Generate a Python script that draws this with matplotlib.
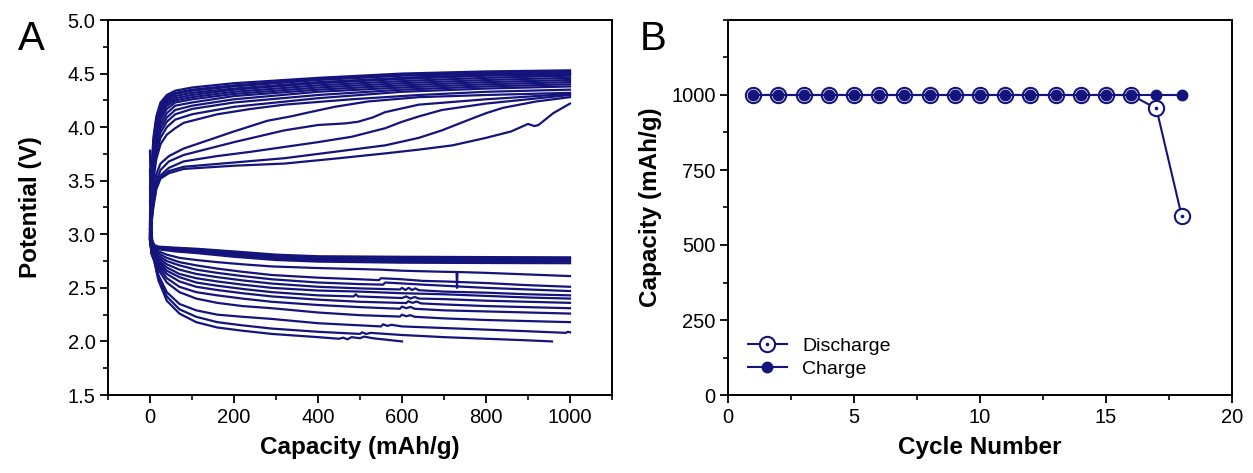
import matplotlib
matplotlib.use('Agg')
import matplotlib.pyplot as plt
from matplotlib.ticker import MultipleLocator, FormatStrFormatter
from matplotlib.legend_handler import HandlerTuple
from matplotlib.lines import Line2D

plt.rcParams['font.family'] = ['Liberation Sans', 'DejaVu Sans']

NAVY = '#14147c'

# ---------------- Panel A data: voltage profiles (capacity mAh/g, potential V)
bundle_cap = [0, 3, 8, 15, 25, 40, 60, 100, 200, 400, 600, 800, 1000]
charge_bundle_v = [
    [3.15, 3.55, 3.90, 4.10, 4.23, 4.30, 4.34, 4.37, 4.41, 4.46, 4.50, 4.52, 4.53],
    [3.12, 3.50, 3.86, 4.07, 4.20, 4.28, 4.32, 4.35, 4.39, 4.45, 4.49, 4.51, 4.52],
    [3.10, 3.48, 3.83, 4.04, 4.18, 4.26, 4.31, 4.34, 4.38, 4.44, 4.48, 4.50, 4.51],
    [3.08, 3.45, 3.80, 4.01, 4.16, 4.24, 4.29, 4.32, 4.36, 4.42, 4.46, 4.49, 4.50],
    [3.06, 3.42, 3.77, 3.98, 4.13, 4.22, 4.27, 4.30, 4.35, 4.41, 4.45, 4.48, 4.49],
    [3.05, 3.40, 3.74, 3.95, 4.10, 4.20, 4.25, 4.28, 4.33, 4.39, 4.43, 4.46, 4.48],
    [3.04, 3.38, 3.70, 3.92, 4.07, 4.17, 4.23, 4.26, 4.31, 4.37, 4.41, 4.44, 4.46],
    [3.03, 3.36, 3.66, 3.88, 4.03, 4.13, 4.20, 4.23, 4.29, 4.35, 4.39, 4.42, 4.44],
    [3.02, 3.34, 3.62, 3.84, 3.99, 4.09, 4.16, 4.20, 4.26, 4.33, 4.37, 4.40, 4.42],
    [3.01, 3.32, 3.58, 3.80, 3.95, 4.05, 4.12, 4.17, 4.23, 4.30, 4.35, 4.38, 4.40],
    [3.00, 3.30, 3.55, 3.76, 3.90, 4.00, 4.07, 4.12, 4.19, 4.27, 4.33, 4.36, 4.38],
]
charge_other = [
    [(0, 3.00), (3, 3.28), (8, 3.50), (15, 3.70), (25, 3.84), (40, 3.93), (60, 3.99), (80, 4.04),
     (160, 4.12), (240, 4.17), (320, 4.21), (480, 4.26), (640, 4.30), (800, 4.33), (1000, 4.35)],
    [(0, 2.98), (3, 3.20), (8, 3.40), (15, 3.56), (25, 3.66), (45, 3.73), (80, 3.80), (140, 3.88),
     (200, 3.96), (280, 4.06), (335, 4.10), (375, 4.135), (440, 4.19), (520, 4.24), (640, 4.28),
     (800, 4.30), (1000, 4.32)],
    [(0, 2.97), (3, 3.15), (8, 3.35), (15, 3.50), (25, 3.60), (45, 3.68), (80, 3.74), (140, 3.80),
     (200, 3.86), (320, 3.97), (400, 4.02), (465, 4.035), (495, 4.05), (530, 4.09), (560, 4.14),
     (640, 4.21), (800, 4.26), (1000, 4.31)],
    [(0, 2.96), (3, 3.12), (8, 3.30), (15, 3.46), (25, 3.55), (45, 3.62), (80, 3.68), (160, 3.73),
     (240, 3.77), (400, 3.86), (480, 3.91), (560, 3.99), (600, 4.05), (640, 4.10), (695, 4.16),
     (800, 4.22), (1000, 4.30)],
    [(0, 2.95), (3, 3.10), (8, 3.28), (15, 3.44), (25, 3.53), (45, 3.59), (80, 3.63), (200, 3.67),
     (320, 3.71), (480, 3.79), (560, 3.83), (640, 3.90), (695, 3.97), (760, 4.07), (800, 4.13),
     (840, 4.18), (920, 4.24), (1000, 4.28)],
    [(0, 2.94), (3, 3.08), (8, 3.25), (15, 3.42), (25, 3.52), (45, 3.57), (80, 3.61), (200, 3.64),
     (320, 3.66), (450, 3.71), (560, 3.755), (640, 3.79), (720, 3.83), (800, 3.90), (860, 3.96),
     (900, 4.03), (915, 4.01), (925, 4.02), (960, 4.13), (1000, 4.22)],
]
discharge_curves = [
    [(0, 3.78), (2, 3.30), (5, 2.95), (10, 2.90), (20, 2.885), (60, 2.875), (110, 2.865), (200, 2.84),
     (300, 2.81), (400, 2.795), (600, 2.79), (800, 2.787), (1000, 2.785)],
    [(0, 3.60), (2, 3.20), (5, 2.93), (10, 2.89), (20, 2.88), (60, 2.87), (110, 2.86), (200, 2.83),
     (300, 2.80), (400, 2.785), (600, 2.78), (800, 2.777), (1000, 2.775)],
    [(0, 3.45), (2, 3.12), (5, 2.92), (10, 2.885), (20, 2.875), (60, 2.86), (110, 2.85), (200, 2.82),
     (300, 2.79), (400, 2.775), (600, 2.77), (800, 2.767), (1000, 2.765)],
    [(0, 3.30), (2, 3.05), (5, 2.91), (10, 2.88), (20, 2.87), (60, 2.855), (110, 2.84), (200, 2.81),
     (300, 2.78), (400, 2.765), (600, 2.76), (800, 2.757), (1000, 2.755)],
    [(0, 3.20), (2, 3.00), (5, 2.90), (10, 2.875), (20, 2.865), (60, 2.85), (110, 2.835), (200, 2.80),
     (300, 2.77), (400, 2.755), (600, 2.75), (800, 2.747), (1000, 2.745)],
    [(0, 3.10), (2, 2.97), (5, 2.89), (10, 2.87), (20, 2.86), (60, 2.84), (110, 2.825), (200, 2.79),
     (300, 2.76), (400, 2.745), (600, 2.735), (800, 2.732), (1000, 2.73)],
    [(0, 3.05), (4, 2.92), (10, 2.87), (20, 2.84), (40, 2.81), (70, 2.78), (110, 2.76), (160, 2.74),
     (220, 2.72), (290, 2.70), (400, 2.685), (500, 2.675), (550, 2.67), (600, 2.66), (700, 2.65),
     (730, 2.648), (731, 2.50), (732, 2.648), (800, 2.64), (900, 2.625), (1000, 2.61)],
    [(0, 3.00), (4, 2.90), (10, 2.86), (20, 2.82), (40, 2.78), (70, 2.74), (110, 2.71), (160, 2.68),
     (220, 2.65), (290, 2.62), (400, 2.595), (500, 2.58), (545, 2.572), (550, 2.59), (600, 2.58),
     (650, 2.565), (700, 2.56), (800, 2.545), (900, 2.525), (1000, 2.51)],
    [(0, 3.00), (4, 2.89), (10, 2.85), (20, 2.80), (40, 2.75), (70, 2.71), (110, 2.67), (160, 2.64),
     (220, 2.61), (290, 2.58), (400, 2.55), (500, 2.535), (555, 2.53), (560, 2.55), (650, 2.53),
     (800, 2.50), (900, 2.485), (1000, 2.47)],
    [(0, 2.98), (4, 2.88), (10, 2.84), (20, 2.78), (40, 2.72), (70, 2.67), (110, 2.63), (160, 2.60),
     (220, 2.57), (290, 2.54), (400, 2.51), (500, 2.495), (595, 2.485), (600, 2.50), (608, 2.48),
     (616, 2.50), (624, 2.48), (632, 2.495), (640, 2.478), (700, 2.465), (800, 2.455), (900, 2.44),
     (1000, 2.43)],
    [(0, 2.98), (4, 2.87), (10, 2.83), (20, 2.76), (40, 2.69), (70, 2.63), (110, 2.59), (160, 2.56),
     (220, 2.53), (290, 2.50), (400, 2.475), (500, 2.465), (600, 2.45), (700, 2.44), (800, 2.425),
     (900, 2.41), (1000, 2.40)],
    [(0, 2.97), (4, 2.86), (10, 2.82), (20, 2.74), (40, 2.66), (70, 2.60), (110, 2.55), (160, 2.52),
     (220, 2.49), (290, 2.46), (400, 2.43), (485, 2.42), (490, 2.44), (495, 2.42), (600, 2.405),
     (610, 2.42), (620, 2.40), (630, 2.415), (640, 2.40), (700, 2.395), (800, 2.38), (900, 2.37),
     (1000, 2.36)],
    [(0, 2.96), (4, 2.85), (10, 2.81), (20, 2.72), (40, 2.63), (70, 2.56), (110, 2.51), (160, 2.48),
     (220, 2.45), (290, 2.42), (400, 2.39), (500, 2.37), (610, 2.358), (615, 2.375), (625, 2.36),
     (635, 2.372), (645, 2.355), (700, 2.345), (800, 2.33), (900, 2.32), (1000, 2.31)],
    [(0, 2.96), (4, 2.84), (10, 2.80), (20, 2.70), (40, 2.59), (70, 2.51), (110, 2.46), (160, 2.43),
     (220, 2.40), (290, 2.37), (400, 2.34), (500, 2.32), (595, 2.305), (600, 2.325), (610, 2.31),
     (620, 2.322), (630, 2.305), (700, 2.29), (800, 2.28), (900, 2.27), (1000, 2.26)],
    [(0, 2.95), (4, 2.83), (10, 2.78), (20, 2.67), (40, 2.55), (70, 2.46), (110, 2.40), (160, 2.36),
     (220, 2.33), (290, 2.31), (400, 2.27), (500, 2.245), (595, 2.232), (600, 2.25), (610, 2.235),
     (620, 2.245), (630, 2.23), (700, 2.215), (800, 2.20), (900, 2.19), (1000, 2.18)],
    [(0, 2.95), (4, 2.82), (10, 2.77), (20, 2.62), (40, 2.46), (70, 2.35), (110, 2.29), (160, 2.25),
     (220, 2.23), (290, 2.21), (400, 2.17), (500, 2.15), (550, 2.14), (555, 2.16), (565, 2.145),
     (575, 2.155), (600, 2.14), (700, 2.125), (800, 2.11), (900, 2.095), (990, 2.08), (995, 2.09),
     (1000, 2.085)],
    [(0, 2.95), (4, 2.82), (10, 2.76), (20, 2.60), (40, 2.42), (70, 2.30), (110, 2.23), (160, 2.18),
     (220, 2.15), (290, 2.12), (400, 2.09), (500, 2.07), (505, 2.085), (515, 2.07), (525, 2.08),
     (600, 2.06), (700, 2.04), (800, 2.025), (900, 2.01), (957, 2.00)],
    [(0, 2.95), (4, 2.81), (10, 2.75), (20, 2.57), (40, 2.38), (70, 2.26), (110, 2.18), (160, 2.13),
     (220, 2.10), (290, 2.07), (400, 2.04), (450, 2.025), (460, 2.035), (470, 2.02), (480, 2.04),
     (500, 2.03), (510, 2.045), (530, 2.03), (600, 2.00)],
]

# ---------------- Panel B data: capacity vs cycle number
cycles = [1, 2, 3, 4, 5, 6, 7, 8, 9, 10, 11, 12, 13, 14, 15, 16, 17, 18]
discharge_capacity = [1000, 1000, 1000, 1000, 1000, 1000, 1000, 1000, 1000,
                      1000, 1000, 1000, 1000, 1000, 1000, 1000, 955, 598]
charge_capacity = [1000, 1000, 1000, 1000, 1000, 1000, 1000, 1000, 1000,
                   1000, 1000, 1000, 1000, 1000, 1000, 1000, 1000, 1000]

TICK_FS = 14.5
LABEL_FS = 17.5

fig = plt.figure(figsize=(12.53, 4.73), dpi=100)
axA = fig.add_axes([108 / 1253, 78 / 473, 504 / 1253, 375 / 473])
axB = fig.add_axes([728 / 1253, 78 / 473, 504 / 1253, 375 / 473])


def style_axes(ax):
    for sp in ax.spines.values():
        sp.set_linewidth(1.4)
        sp.set_color('black')
    ax.tick_params(which='major', direction='out', length=6, width=1.3,
                   labelsize=TICK_FS, pad=3, top=False, right=False)
    ax.tick_params(which='minor', direction='out', length=3.5, width=1.2,
                   top=False, right=False)


# Panel A
for v in charge_bundle_v:
    axA.plot(bundle_cap, v, color=NAVY, lw=1.6, solid_joinstyle='round')
for curve in charge_other + discharge_curves:
    xs = [p[0] for p in curve]
    ys = [p[1] for p in curve]
    axA.plot(xs, ys, color=NAVY, lw=1.6, solid_joinstyle='round')

axA.set_xlim(-100, 1100)
axA.set_ylim(1.5, 5.0)
axA.set_xticks([0, 200, 400, 600, 800, 1000])
axA.xaxis.set_minor_locator(MultipleLocator(100))
axA.yaxis.set_major_locator(MultipleLocator(0.5))
axA.yaxis.set_minor_locator(MultipleLocator(0.25))
axA.yaxis.set_major_formatter(FormatStrFormatter('%.1f'))
style_axes(axA)
axA.set_xlabel('Capacity (mAh/g)', fontsize=LABEL_FS, fontweight='bold')
axA.set_ylabel('Potential (V)', fontsize=LABEL_FS, fontweight='bold')
axA.xaxis.set_label_coords(0.5, -0.108)
axA.yaxis.set_label_coords(-0.131, 0.5)

# Panel B
axB.plot(cycles, discharge_capacity, color=NAVY, lw=1.5, marker='o', ms=11,
         mfc='white', mec=NAVY, mew=1.5, zorder=3)
axB.plot(cycles, discharge_capacity, ls='none', marker='o', ms=1.6,
         mfc=NAVY, mec=NAVY, zorder=3.5)
axB.plot(cycles, charge_capacity, color=NAVY, lw=1.5, marker='o', ms=7.5,
         mfc=NAVY, mec=NAVY, zorder=4)
axB.set_xlim(0, 20)
axB.set_ylim(0, 1250)
axB.xaxis.set_major_locator(MultipleLocator(5))
axB.xaxis.set_minor_locator(MultipleLocator(2.5))
axB.set_yticks([0, 250, 500, 750, 1000])
axB.yaxis.set_minor_locator(MultipleLocator(125))
style_axes(axB)
axB.set_xlabel('Cycle Number', fontsize=LABEL_FS, fontweight='bold')
axB.set_ylabel('Capacity (mAh/g)', fontsize=LABEL_FS, fontweight='bold')
axB.xaxis.set_label_coords(0.5, -0.108)
axB.yaxis.set_label_coords(-0.131, 0.5)

h_dis = (Line2D([], [], color=NAVY, lw=1.5, marker='o', ms=11, mfc='white', mec=NAVY, mew=1.5),
         Line2D([], [], ls='none', marker='o', ms=1.6, mfc=NAVY, mec=NAVY))
h_chg = Line2D([], [], color=NAVY, lw=1.5, marker='o', ms=7.5, mfc=NAVY, mec=NAVY)
axB.legend([h_dis, h_chg], ['Discharge', 'Charge'],
           handler_map={tuple: HandlerTuple(ndivide=1, pad=0)},
           loc='lower left', bbox_to_anchor=(0.005, 0.0), frameon=False,
           fontsize=14, handlelength=2.0, handletextpad=0.8, labelspacing=0.25)

fig.text(18 / 1253, 1 - 50 / 473, 'A', fontsize=29, va='baseline', ha='left')
fig.text(640 / 1253, 1 - 50 / 473, 'B', fontsize=29, va='baseline', ha='left')

fig.savefig('out.png', dpi=100)
